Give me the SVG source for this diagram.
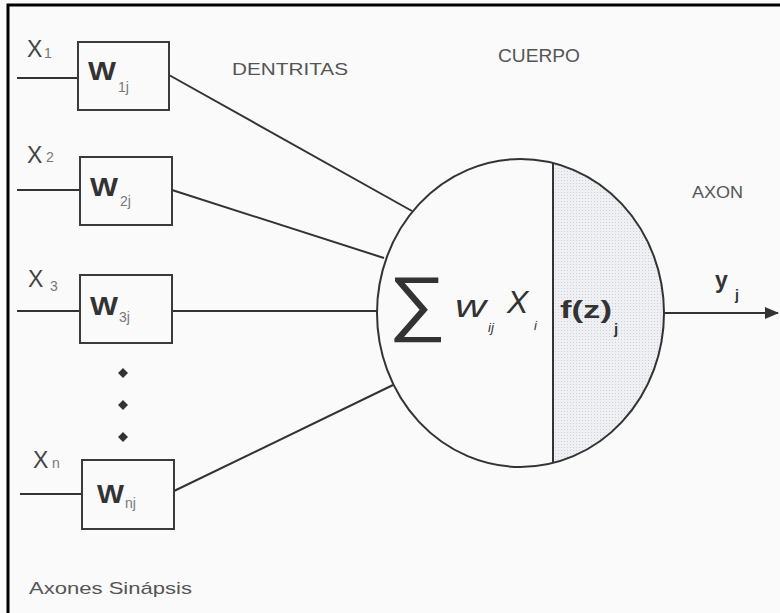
<svg xmlns="http://www.w3.org/2000/svg" width="780" height="613" viewBox="0 0 780 613">
<defs>
<style>
.box{fill:none;stroke:#3a3a3a;stroke-width:2}
.ln{stroke:#333;stroke-width:2;fill:none}
.lbl{font-family:"Liberation Sans",Arial,sans-serif;fill:#555}
.x{font-family:"Liberation Sans",Arial,sans-serif;fill:#444;font-size:23px}
.xs{font-family:"Liberation Sans",Arial,sans-serif;fill:#777;font-size:14px}
.w{font-family:"Liberation Sans",Arial,sans-serif;font-weight:bold;fill:#333;font-size:25px}
.ws{font-family:"Liberation Sans",Arial,sans-serif;fill:#777;font-size:14px}
.m{font-family:"Liberation Sans",Arial,sans-serif;fill:#333}
.dot{fill:#333}
</style>
<marker id="arr" markerWidth="14" markerHeight="12" refX="13" refY="6" orient="auto" markerUnits="userSpaceOnUse"><path d="M0,0 L14,6 L0,12 Z" fill="#333"/></marker>
<pattern id="dots" width="3" height="3" patternUnits="userSpaceOnUse"><rect width="3" height="3" fill="#eff0f3"/><rect width="1" height="1" fill="#cfd0d8"/></pattern>
<clipPath id="rightPart"><rect x="553" y="150" width="120" height="330"/></clipPath>
</defs>
<rect width="780" height="613" fill="#fafafa"/>
<path d="M8,613 V5 H780" fill="none" stroke="#000" stroke-width="3"/>

<g id="connectors">
<line class="ln" x1="17" y1="78" x2="78" y2="78"/>
<line class="ln" x1="17" y1="190" x2="80" y2="190"/>
<line class="ln" x1="17" y1="311" x2="80" y2="311"/>
<line class="ln" x1="20" y1="494" x2="82" y2="494"/>
<line class="ln" x1="169" y1="75" x2="412" y2="211"/>
<line class="ln" x1="172" y1="190" x2="384" y2="258"/>
<line class="ln" x1="172" y1="311" x2="377" y2="311"/>
<line class="ln" x1="174" y1="491" x2="393" y2="385"/>
<line class="ln" x1="664" y1="313" x2="778" y2="313" marker-end="url(#arr)"/>
</g>

<g id="input1">
<rect class="box" x="78" y="42" width="91" height="68"/>
<text class="x" x="27" y="57">X</text><text class="xs" x="44" y="58">1</text>
<text class="w" x="88" y="80" textLength="28" lengthAdjust="spacingAndGlyphs">W</text><text class="ws" x="118" y="92">1j</text>
</g>
<g id="input2">
<rect class="box" x="80" y="157" width="92" height="68"/>
<text class="x" x="27" y="163">X</text><text class="xs" x="46" y="162">2</text>
<text class="w" x="90" y="196" textLength="28" lengthAdjust="spacingAndGlyphs">W</text><text class="ws" x="120" y="206">2j</text>
</g>
<g id="input3">
<rect class="box" x="80" y="275" width="92" height="68"/>
<text class="x" x="28" y="287">X</text><text class="xs" x="50" y="291">3</text>
<text class="w" x="90" y="315" textLength="28" lengthAdjust="spacingAndGlyphs">W</text><text class="ws" x="119" y="322">3j</text>
</g>
<g id="ellipsis">
<path class="dot" d="M123,368 L128,373 L123,378 L118,373 Z"/>
<path class="dot" d="M123,400 L128,405 L123,410 L118,405 Z"/>
<path class="dot" d="M123,432 L128,437 L123,442 L118,437 Z"/>
</g>
<g id="inputn">
<rect class="box" x="82" y="460" width="92" height="69"/>
<text class="x" x="33" y="468">X</text><text class="xs" x="52" y="468">n</text>
<text class="w" x="97" y="503" textLength="27" lengthAdjust="spacingAndGlyphs">W</text><text class="ws" x="125" y="508">nj</text>
</g>

<g id="body">
<ellipse cx="520.5" cy="313" rx="143.5" ry="154" fill="url(#dots)" clip-path="url(#rightPart)"/>
<ellipse cx="520.5" cy="313" rx="143.5" ry="154" fill="none" stroke="#333" stroke-width="2"/>
<line x1="553" y1="163" x2="553" y2="463" stroke="#333" stroke-width="2"/>
<text class="m" x="388" y="327" font-size="72" textLength="58" lengthAdjust="spacingAndGlyphs">∑</text>
<text class="m" x="455" y="317" font-size="32" font-style="italic" textLength="31" lengthAdjust="spacingAndGlyphs">w</text>
<text class="m" x="488" y="332" font-size="13" font-style="italic" fill="#666">ij</text>
<text class="m" x="507" y="313" font-size="32" font-style="italic">X</text>
<text class="m" x="534" y="330" font-size="13" font-style="italic" fill="#666">i</text>
<text class="m" x="560" y="318" font-size="24" font-weight="bold" textLength="52" lengthAdjust="spacingAndGlyphs">f(z)</text>
<text class="m" x="614" y="334" font-size="15" font-weight="bold">j</text>
</g>

<g id="output">
<text class="m" x="715" y="288" font-size="23" font-weight="bold">y</text>
<text class="m" x="735" y="300" font-size="14" font-weight="bold">j</text>
</g>

<g id="labels">
<text class="lbl" x="232" y="75" font-size="17" textLength="116" lengthAdjust="spacingAndGlyphs">DENTRITAS</text>
<text class="lbl" x="498" y="62" font-size="18" textLength="82" lengthAdjust="spacingAndGlyphs">CUERPO</text>
<text class="lbl" x="692" y="198" font-size="16" textLength="51" lengthAdjust="spacingAndGlyphs">AXON</text>
<text class="lbl" x="29" y="594" font-size="17" textLength="163" lengthAdjust="spacingAndGlyphs">Axones Sinápsis</text>
</g>
</svg>
